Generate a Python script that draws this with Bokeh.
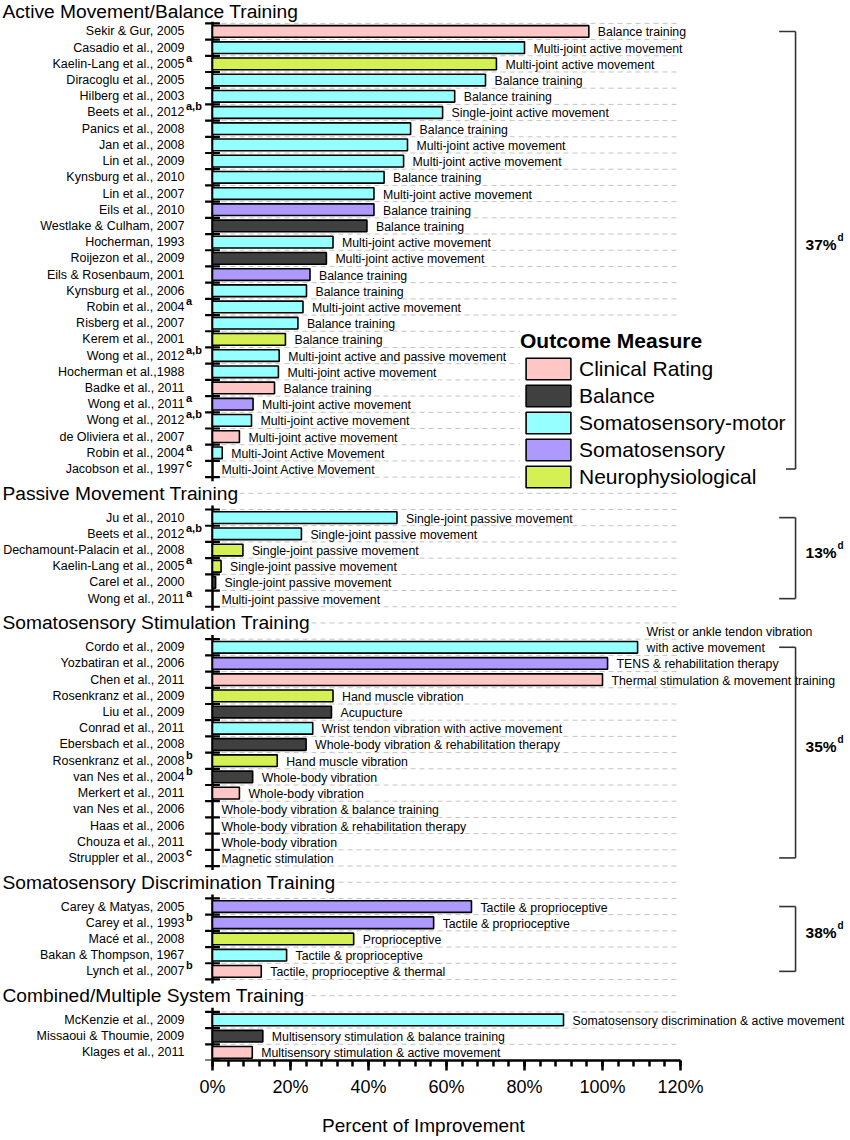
import numpy as np
from bokeh.plotting import figure
from bokeh.models import (Range1d, Label, Legend, LegendItem, ColumnDataSource,
                          SingleIntervalTicker, PrintfTickFormatter)
from bokeh.core.properties import value
from bokeh.embed import file_html
from bokeh.resources import INLINE

# ---------------- data ----------------
section_titles = ["Active Movement/Balance Training", "Passive Movement Training",
                  "Somatosensory Stimulation Training", "Somatosensory Discrimination Training",
                  "Combined/Multiple System Training"]
section_sizes = [28, 6, 14, 5, 3]
section_share = ["37%", "13%", "35%", "38%", ""]

studies = [
    # Active Movement/Balance Training
    "Sekir & Gur, 2005", "Casadio et al., 2009", "Kaelin-Lang et al., 2005", "Diracoglu et al., 2005",
    "Hilberg et al., 2003", "Beets et al., 2012", "Panics et al., 2008", "Jan et al., 2008",
    "Lin et al., 2009", "Kynsburg et al., 2010", "Lin et al., 2007", "Eils et al., 2010",
    "Westlake & Culham, 2007", "Hocherman, 1993", "Roijezon et al., 2009", "Eils & Rosenbaum, 2001",
    "Kynsburg et al., 2006", "Robin et al., 2004", "Risberg et al., 2007", "Kerem et al., 2001",
    "Wong et al., 2012", "Hocherman et al.,1988", "Badke et al., 2011", "Wong et al., 2011",
    "Wong et al., 2012", "de Oliviera et al., 2007", "Robin et al., 2004", "Jacobson et al., 1997",
    # Passive Movement Training
    "Ju et al., 2010", "Beets et al., 2012", "Dechamount-Palacin et al., 2008", "Kaelin-Lang et al., 2005",
    "Carel et al., 2000", "Wong et al., 2011",
    # Somatosensory Stimulation Training
    "Cordo et al., 2009", "Yozbatiran et al., 2006", "Chen et al., 2011", "Rosenkranz et al., 2009",
    "Liu et al., 2009", "Conrad et al., 2011", "Ebersbach et al., 2008", "Rosenkranz et al., 2008",
    "van Nes et al., 2004", "Merkert et al., 2011", "van Nes et al., 2006", "Haas et al., 2006",
    "Chouza et al., 2011", "Struppler et al., 2003",
    # Somatosensory Discrimination Training
    "Carey & Matyas, 2005", "Carey et al., 1993", "Macé et al., 2008", "Bakan & Thompson, 1967",
    "Lynch et al., 2007",
    # Combined/Multiple System Training
    "McKenzie et al., 2009", "Missaoui & Thoumie, 2009", "Klages et al., 2011",
]

study_notes = [
    "", "", "a", "", "", "a,b", "", "", "", "", "", "", "", "", "", "", "", "a", "", "",
    "a,b", "", "", "a", "a,b", "", "a", "c",
    "", "a,b", "", "a", "", "a",
    "", "", "", "", "", "", "", "b", "b", "", "", "", "", "c",
    "", "b", "", "", "b",
    "", "", "",
]

improvement = [
    96.5, 80.0, 72.8, 70.0, 62.1, 59.0, 50.8, 50.0, 49.0, 44.0, 41.4, 41.4, 39.6, 30.9,
    29.2, 25.0, 24.1, 23.2, 21.9, 18.7, 17.1, 16.9, 15.9, 10.4, 10.0, 6.9, 2.5, 0.0,
    47.3, 22.8, 7.8, 2.2, 0.8, 0.0,
    109.0, 101.3, 100.0, 30.9, 30.5, 25.7, 24.0, 16.6, 10.3, 6.9, 0.0, 0.0, 0.0, 0.0,
    66.4, 56.7, 36.2, 19.0, 12.5,
    90.0, 12.9, 10.2,
]

CR, BA, SM, SO, NE = ("Clinical Rating", "Balance", "Somatosensory-motor",
                      "Somatosensory", "Neurophysiological")
outcome = [
    CR, SM, NE, SM, SM, SM, SM, SM, SM, SM, SM, SO, BA, SM,
    BA, SO, SM, SM, SM, NE, SM, SM, CR, SO, SM, CR, SM, "",
    SM, SM, NE, NE, BA, "",
    SM, SO, CR, NE, BA, SM, BA, NE, BA, CR, "", "", "", "",
    SO, SO, NE, SM, CR,
    SM, BA, CR,
]

intervention = [
    "Balance training", "Multi-joint active movement", "Multi-joint active movement",
    "Balance training", "Balance training", "Single-joint active movement", "Balance training",
    "Multi-joint active movement", "Multi-joint active movement", "Balance training",
    "Multi-joint active movement", "Balance training", "Balance training",
    "Multi-joint active movement", "Multi-joint active movement", "Balance training",
    "Balance training", "Multi-joint active movement", "Balance training", "Balance training",
    "Multi-joint active and passive movement", "Multi-joint active movement", "Balance training",
    "Multi-joint active movement", "Multi-joint active movement", "Multi-joint active movement",
    "Multi-Joint Active Movement", "Multi-Joint Active Movement",
    "Single-joint passive movement", "Single-joint passive movement", "Single-joint passive movement",
    "Single-joint passive movement", "Single-joint passive movement", "Multi-joint passive movement",
    "Wrist or ankle tendon vibration\nwith active movement", "TENS & rehabilitation therapy",
    "Thermal stimulation & movement training", "Hand muscle vibration", "Acupucture",
    "Wrist tendon vibration with active movement", "Whole-body vibration & rehabilitation therapy",
    "Hand muscle vibration", "Whole-body vibration", "Whole-body vibration",
    "Whole-body vibration & balance training", "Whole-body vibration & rehabilitation therapy",
    "Whole-body vibration", "Magnetic stimulation",
    "Tactile & proprioceptive", "Tactile & proprioceptive", "Proprioceptive",
    "Tactile & proprioceptive", "Tactile, proprioceptive & thermal",
    "Somatosensory discrimination & active movement", "Multisensory stimulation & balance training",
    "Multisensory stimulation & active movement",
]

measures = [CR, BA, SM, SO, NE]
measure_colors = ["#ffc6c6", "#404040", "#96ffff", "#ae9aff", "#d4f052"]

x_ticks_interval = 20
x_max_value = 120

# ---------------- layout ----------------
W, H = 846, 1138
X0_PX = 212.0          # canvas pixel of 0%
PX_PER = 3.9           # pixels per percent
ROW0_PX = 31.0         # canvas pixel of first row centre
FRAME_BOTTOM_PX = 1061.0
xmin = -X0_PX / PX_PER
xmax = (W - X0_PX) / PX_PER
LABEL_EDGE = xmin + 184.0 / PX_PER
FNAME = "Liberation Sans"
FONT = value(FNAME)

rows, title_rows, sec_first, sec_last = [], [], [], []
start = 0
for n in section_sizes:
    title_rows.append(start - 1.5)
    sec_first.append(start)
    sec_last.append(start + n - 1)
    rows += list(range(start, start + n))
    start += n + 2
title_rows[0] = -1.25
y_bottom = rows[-1] + 0.5
pitch = (FRAME_BOTTOM_PX - ROW0_PX) / y_bottom
y_top = -ROW0_PX / pitch

p = figure(width=W, height=H, x_range=Range1d(xmin, xmax), y_range=Range1d(y_bottom, y_top),
           y_axis_location=None, toolbar_location=None, output_backend="svg", min_border=0)
p.min_border_top = 0
p.min_border_bottom = int(H - FRAME_BOTTOM_PX)
p.outline_line_color = None
p.grid.visible = False
p.background_fill_color = "white"
p.border_fill_color = "white"

# dashed row lines
grid_y = np.arange(-0.5, y_bottom - 0.5, 1.0)
p.segment(x0=0, x1=x_max_value, y0=grid_y, y1=grid_y, line_color="#c4c4c4",
          line_width=1, line_dash="5 4")

# vertical axis segments & ticks per section
ax_y0, ax_y1, tk_y = [], [], []
for i, (a, b) in enumerate(zip(sec_first, sec_last)):
    ax_y0.append(a - 0.5 - 0.25)
    ax_y1.append(b + 0.5 + (0.25 if i < len(sec_first) - 1 else 0))
    tk_y += list(np.arange(a - 0.5, b + 1.0, 1.0))
p.segment(x0=0, x1=0, y0=ax_y0, y1=ax_y1, line_color="black", line_width=2.5)
p.segment(x0=-1.9, x1=1.9, y0=tk_y, y1=tk_y, line_color="black", line_width=2.2)

# bars
items = []
for m, c in zip(measures, measure_colors):
    idx = [i for i in range(len(studies)) if outcome[i] == m and improvement[i] > 0]
    src = ColumnDataSource(dict(y=[rows[i] for i in idx], right=[improvement[i] for i in idx]))
    r = p.hbar(y="y", left=0, right="right", height=0.72, source=src,
               fill_color=c, line_color="black", line_width=1.6)
    items.append(LegendItem(label=m, renderers=[r]))

# study labels
p.text(x=[LABEL_EDGE] * len(studies), y=rows, text=studies, text_align="right",
       text_baseline="middle", text_font=FONT, text_font_size="12.5px", text_color="black")
ni = [i for i in range(len(studies)) if study_notes[i]]
p.text(x=[LABEL_EDGE] * len(ni), y=[rows[i] for i in ni], text=[study_notes[i] for i in ni],
       x_offset=1.5, y_offset=-6, text_align="left", text_baseline="middle", text_font=FONT,
       text_font_size="11px", text_font_style="bold", text_color="black")

# intervention labels
main_txt, extra_txt, extra_x, extra_y = [], [], [], []
for i, t in enumerate(intervention):
    parts = t.split("\n")
    main_txt.append(parts[-1])
    for k, part in enumerate(parts[:-1]):
        extra_txt.append(part)
        extra_x.append(improvement[i])
        extra_y.append(rows[i])
p.text(x=improvement, y=rows, text=main_txt, x_offset=9, y_offset=1, text_align="left",
       text_baseline="middle", text_font=FONT, text_font_size="12.3px", text_color="black")
if extra_txt:
    p.text(x=extra_x, y=extra_y, text=extra_txt, x_offset=9, y_offset=-15, text_align="left",
           text_baseline="middle", text_font=FONT, text_font_size="12.3px", text_color="black")

# section titles
for t, ry in zip(section_titles, title_rows):
    p.add_layout(Label(x=xmin + 0.5, y=ry, text=t, text_align="left", text_baseline="middle",
                       text_font=FNAME, text_font_size="19.2px", text_color="black",
                       background_fill_color="white", background_fill_alpha=1.0))

# brackets with share
BX, BX0 = 149.5, 145.3
bi = [i for i in range(len(section_share)) if section_share[i]]
by0 = [sec_first[i] for i in bi]
by1 = [sec_last[i] for i in bi]
p.segment(x0=BX, x1=BX, y0=by0, y1=by1, line_color="#333333", line_width=1.6)
p.segment(x0=BX0, x1=BX, y0=by0, y1=by0, line_color="#333333", line_width=1.6)
p.segment(x0=BX0, x1=BX, y0=by1, y1=by1, line_color="#333333", line_width=1.6)
bmid = [(a + b) / 2 for a, b in zip(by0, by1)]
p.text(x=[BX] * len(bi), y=bmid, text=[section_share[i] for i in bi], x_offset=10, y_offset=-6,
       text_align="left", text_baseline="middle", text_font=FONT, text_font_size="15.5px",
       text_font_style="bold", text_color="black")
p.text(x=[BX] * len(bi), y=bmid, text=["d"] * len(bi), x_offset=42, y_offset=-13,
       text_align="left", text_baseline="middle", text_font=FONT, text_font_size="10px",
       text_font_style="bold", text_color="black")

# x axis
ax = p.xaxis[0]
ax.bounds = (0, x_max_value)
ax.ticker = SingleIntervalTicker(interval=x_ticks_interval, num_minor_ticks=5)
ax.formatter = PrintfTickFormatter(format="%d%%")
ax.axis_line_width = 2.5
ax.axis_line_color = "black"
ax.major_tick_line_width = 2.5
ax.major_tick_line_color = "black"
ax.minor_tick_line_width = 2.5
ax.minor_tick_line_color = "black"
ax.major_tick_in = 0
ax.major_tick_out = 10
ax.minor_tick_in = 0
ax.minor_tick_out = 6
ax.major_label_text_font = FNAME
ax.major_label_text_font_size = "18px"
ax.major_label_text_color = "black"
ax.major_label_standoff = 6
ax.axis_label = "Percent of Improvement"
ax.axis_label_text_font = FNAME
ax.axis_label_text_font_size = "19px"
ax.axis_label_text_font_style = "normal"
ax.axis_label_text_color = "black"
ax.axis_label_standoff = 15

# legend
legend = Legend(items=items, location=(520, int(FRAME_BOTTOM_PX - 490.7)), title="Outcome Measure",
                title_text_font=FNAME, title_text_font_size="21px",
                title_text_font_style="bold", title_text_color="black", title_standoff=2,
                label_text_font=FNAME, label_text_font_size="21px",
                label_text_color="black", glyph_width=56, glyph_height=27, label_height=27,
                spacing=0, padding=0, margin=0, label_standoff=3,
                border_line_color=None, background_fill_color="white", background_fill_alpha=1.0)
p.add_layout(legend)

open("out.html", "w").write(file_html(p, INLINE))
